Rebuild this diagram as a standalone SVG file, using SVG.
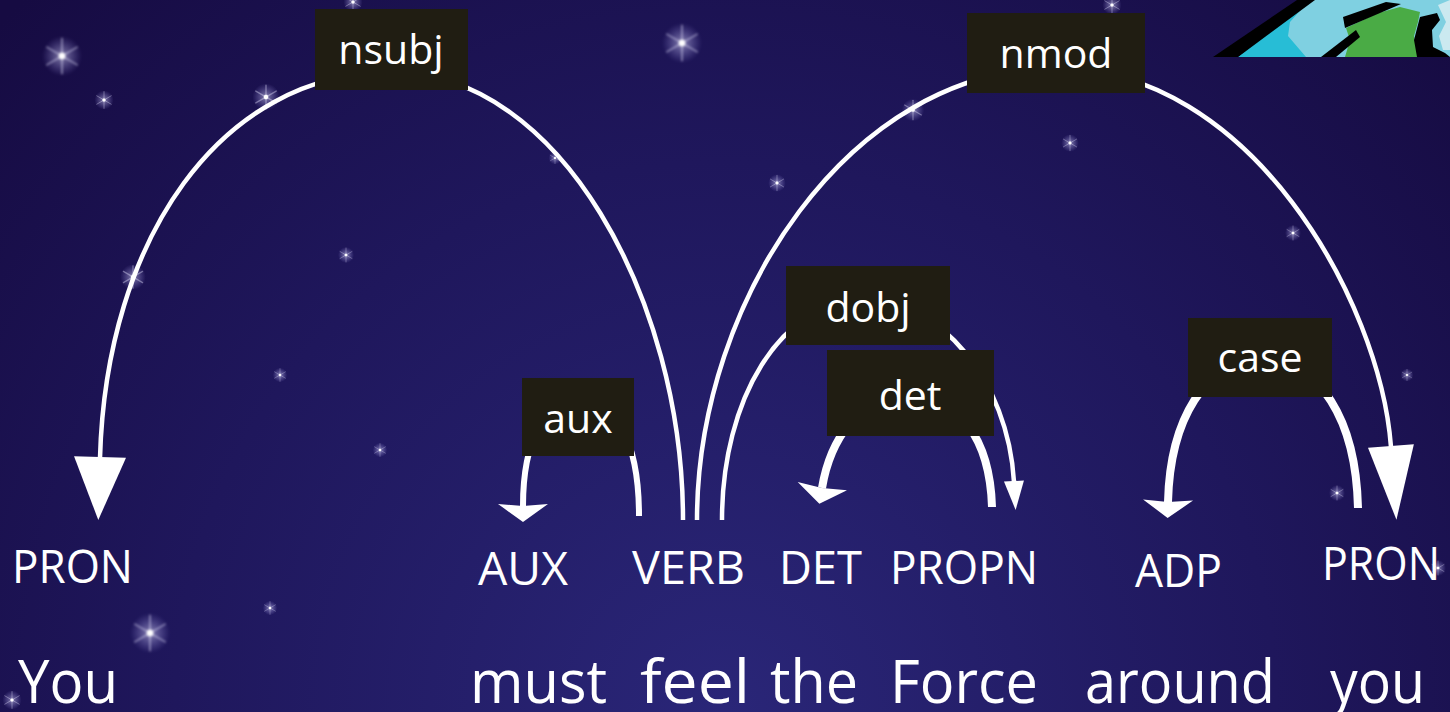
<svg xmlns="http://www.w3.org/2000/svg" xmlns:xlink="http://www.w3.org/1999/xlink" width="1450" height="712" viewBox="0 0 1450 712">
  <defs>
    <radialGradient id="sky" cx="725" cy="712" r="1000" gradientUnits="userSpaceOnUse">
      <stop offset="0" stop-color="#2a2678"/>
      <stop offset="0.55" stop-color="#1f175c"/>
      <stop offset="1" stop-color="#160b42"/>
    </radialGradient>
    <radialGradient id="glow">
      <stop offset="0" stop-color="#ffffff" stop-opacity="0.9"/>
      <stop offset="0.25" stop-color="#d8d4ff" stop-opacity="0.4"/>
      <stop offset="1" stop-color="#b0a8ff" stop-opacity="0"/>
    </radialGradient>
    <filter id="soft" x="-50%" y="-50%" width="200%" height="200%">
      <feGaussianBlur stdDeviation="0.7"/>
    </filter>
    <symbol id="star" viewBox="-20 -20 40 40" overflow="visible">
      <g filter="url(#soft)">
        <circle r="16" fill="url(#glow)"/>
        <g stroke="#e8e6ff" stroke-opacity="0.4" stroke-width="1.6" stroke-linecap="round">
          <line x1="0" y1="-14" x2="0" y2="14"/>
          <line x1="-12" y1="-7" x2="12" y2="7"/>
          <line x1="-12" y1="7" x2="12" y2="-7"/>
        </g>
        <circle r="2.6" fill="#ffffff"/>
      </g>
    </symbol>
    <clipPath id="planetClip">
      <rect x="1200" y="0" width="250" height="57"/>
    </clipPath>
    <!-- arrowheads -->
    <marker id="head-nsubj" markerUnits="userSpaceOnUse" viewBox="-2 -27 66 54" refX="0" refY="0" markerWidth="66" markerHeight="54" orient="auto" overflow="visible">
      <path d="M-1,-26 L62,0 L-1,26 z" fill="#ffffff"/>
    </marker>
    <marker id="head-nmod" markerUnits="userSpaceOnUse" viewBox="-2 -24 77 48" refX="0" refY="0" markerWidth="77" markerHeight="48" orient="auto" overflow="visible">
      <path d="M-1,-23 L73,0 L-1,23 z" fill="#ffffff"/>
    </marker>
    <marker id="head-small" markerUnits="userSpaceOnUse" viewBox="-2 -11 32 22" refX="0" refY="0" markerWidth="32" markerHeight="22" orient="auto" overflow="visible">
      <path d="M-1,-10 L28,0 L-1,10 z" fill="#ffffff"/>
    </marker>
    <marker id="head-wing" markerUnits="userSpaceOnUse" viewBox="-4 -26 22 52" refX="0" refY="0" markerWidth="22" markerHeight="52" orient="auto" overflow="visible">
      <path d="M-2,-25 L16,0 L-2,25 L0,0 z" fill="#ffffff"/>
    </marker>
  </defs>

  <style>
    .word { font-family: "Open Sans", "Liberation Sans", sans-serif; font-size: 60px; fill: #ffffff; }
    .tag { font-family: "Open Sans", "Liberation Sans", sans-serif; font-size: 45px; fill: #ffffff; }
    .lbl-box { fill: #201d12; }
    .lbl { font-family: "Open Sans", "Liberation Sans", sans-serif; font-size: 41px; fill: #ffffff; text-anchor: middle; }
    .arc { fill: none; stroke: #ffffff; stroke-linecap: butt; }
  </style>

  <!-- night sky -->
  <rect x="0" y="0" width="1450" height="712" fill="url(#sky)"/>

  <g id="stars">
    <use xlink:href="#star" x="37" y="31" width="50" height="50"/>
    <use xlink:href="#star" x="92" y="88" width="24" height="24"/>
    <use xlink:href="#star" x="249" y="80" width="34" height="34"/>
    <use xlink:href="#star" x="117" y="261" width="32" height="32"/>
    <use xlink:href="#star" x="336" y="245" width="20" height="20"/>
    <use xlink:href="#star" x="271" y="366" width="18" height="18"/>
    <use xlink:href="#star" x="371" y="441" width="18" height="18"/>
    <use xlink:href="#star" x="125" y="608" width="50" height="50"/>
    <use xlink:href="#star" x="261" y="599" width="18" height="18"/>
    <use xlink:href="#star" x="0" y="688" width="24" height="24"/>
    <use xlink:href="#star" x="341" y="-10" width="24" height="24"/>
    <use xlink:href="#star" x="657" y="18" width="50" height="50"/>
    <use xlink:href="#star" x="766" y="172" width="22" height="22"/>
    <use xlink:href="#star" x="899" y="96" width="28" height="28"/>
    <use xlink:href="#star" x="547" y="150" width="16" height="16"/>
    <use xlink:href="#star" x="1059" y="132" width="22" height="22"/>
    <use xlink:href="#star" x="1100" y="-7" width="24" height="24"/>
    <use xlink:href="#star" x="1283" y="223" width="20" height="20"/>
    <use xlink:href="#star" x="1327" y="483" width="20" height="20"/>
    <use xlink:href="#star" x="1399" y="367" width="16" height="16"/>
    <use xlink:href="#star" x="1428" y="558" width="20" height="20"/>
  </g>

  <!-- planet peeking in at the top right -->
  <g id="planet" clip-path="url(#planetClip)">
    <path d="M1238,57 L1313,0 L1450,0 L1450,57 z" fill="#7fd0e1"/>
    <path d="M1238,57 L1298,8 L1306,4 L1290,22 L1288,36 L1300,50 L1306,57 z" fill="#27bdd6"/>
    <path d="M1213,57 L1297,0 L1315,0 L1238,57 z" fill="#000000"/>
    <path d="M1345,57 L1350,40 L1346,28 L1378,13 L1400,7 L1420,12 L1418,22 L1414,36 L1418,57 z" fill="#4aab45"/>
    <path d="M1343,17 L1386,2 L1401,4 L1380,13 L1345,28 z" fill="#000000"/>
    <path d="M1321,57 L1356,30 L1360,37 L1336,57 z" fill="#000000"/>
    <path d="M1420,17 L1437,13 L1440,20 L1432,30 L1433,47 L1445,53 L1450,57 L1417,57 L1414,40 z" fill="#000000"/>
    <path d="M1438,5 L1450,0 L1450,50 L1443,50 L1439,36 L1446,22 z" fill="#cbe9f0"/>
  </g>

  <!-- dependency arcs -->
  <g id="connectors">
    <path id="e-nsubj" class="arc" stroke-width="4.5" d="M683,520 C683,300 560,72 392,72 C220,72 106,240 100,458" marker-end="url(#head-nsubj)"/>
    <path id="e-nmod" class="arc" stroke-width="4.5" d="M697,520 C697,300 850,68 1056,68 C1250,68 1380,300 1391,447" marker-end="url(#head-nmod)"/>
    <path id="e-dobj" class="arc" stroke-width="4.5" d="M722,520 C722,400 780,300 865,300 C940,300 1008,380 1014,482" marker-end="url(#head-small)"/>
    <path id="e-aux" class="arc" stroke-width="6" d="M639,516 C639,440 615,400 580,400 C545,400 523,440 523,506" marker-end="url(#head-wing)"/>
    <path id="e-det" class="arc" stroke-width="8" d="M992,507 C990,440 960,395 905,395 C860,395 830,440 822,488" marker-end="url(#head-wing)"/>
    <path id="e-case" class="arc" stroke-width="8" d="M1358,508 C1356,420 1320,360 1262,360 C1205,360 1170,420 1168,502" marker-end="url(#head-wing)"/>
  </g>

  <!-- arc labels -->
  <g id="labels">
    <g id="l-nsubj"><rect class="lbl-box" x="315" y="9" width="153" height="81"/><text class="lbl" x="391" y="64">nsubj</text></g>
    <g id="l-nmod"><rect class="lbl-box" x="967" y="13" width="178" height="80"/><text class="lbl" x="1056" y="68">nmod</text></g>
    <g id="l-dobj"><rect class="lbl-box" x="786" y="266" width="164" height="79"/><text class="lbl" x="868" y="322">dobj</text></g>
    <g id="l-det"><rect class="lbl-box" x="827" y="350" width="167" height="86"/><text class="lbl" x="910" y="410">det</text></g>
    <g id="l-aux"><rect class="lbl-box" x="522" y="378" width="112" height="78"/><text class="lbl" x="578" y="433">aux</text></g>
    <g id="l-case"><rect class="lbl-box" x="1188" y="318" width="144" height="79"/><text class="lbl" x="1260" y="372">case</text></g>
  </g>

  <!-- tokens with their part-of-speech tags -->
  <g id="n-you1">
    <text class="tag" x="12" y="583" textLength="121" lengthAdjust="spacingAndGlyphs">PRON</text>
    <text class="word" x="18" y="703" textLength="100" lengthAdjust="spacingAndGlyphs">You</text>
  </g>
  <g id="n-must">
    <text class="tag" x="478" y="585" textLength="90" lengthAdjust="spacingAndGlyphs">AUX</text>
    <text class="word" x="470" y="703" textLength="137" lengthAdjust="spacingAndGlyphs">must</text>
  </g>
  <g id="n-feel">
    <text class="tag" x="632" y="584" textLength="113" lengthAdjust="spacingAndGlyphs">VERB</text>
    <text class="word" x="640" y="703" textLength="110" lengthAdjust="spacingAndGlyphs">feel</text>
  </g>
  <g id="n-the">
    <text class="tag" x="779" y="584" textLength="83" lengthAdjust="spacingAndGlyphs">DET</text>
    <text class="word" x="770" y="703" textLength="88" lengthAdjust="spacingAndGlyphs">the</text>
  </g>
  <g id="n-force">
    <text class="tag" x="890" y="584" textLength="148" lengthAdjust="spacingAndGlyphs">PROPN</text>
    <text class="word" x="890" y="703" textLength="148" lengthAdjust="spacingAndGlyphs">Force</text>
  </g>
  <g id="n-around">
    <text class="tag" x="1135" y="587" textLength="87" lengthAdjust="spacingAndGlyphs">ADP</text>
    <text class="word" x="1085" y="703" textLength="190" lengthAdjust="spacingAndGlyphs">around</text>
  </g>
  <g id="n-you2">
    <text class="tag" x="1322" y="580" textLength="118" lengthAdjust="spacingAndGlyphs">PRON</text>
    <text class="word" x="1330" y="703" textLength="95" lengthAdjust="spacingAndGlyphs">you</text>
  </g>
</svg>
